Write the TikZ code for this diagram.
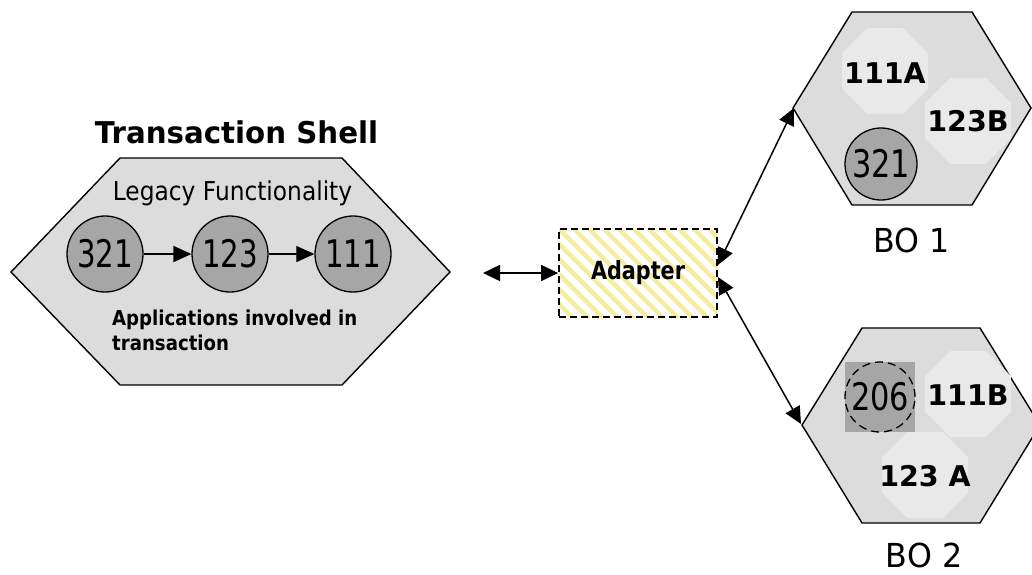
\documentclass[tikz,border=0pt]{standalone}
\usepackage{fontspec}
\setmainfont{DejaVu Sans}
\usepackage{graphicx}
\usetikzlibrary{arrows.meta,shapes.geometric}
\definecolor{hexfill}{RGB}{220,220,220}
\definecolor{octfill}{RGB}{233,233,233}
\definecolor{appfill}{RGB}{166,166,166}
\definecolor{stripecol}{RGB}{246,236,160}
\newcommand\hsq[2]{\scalebox{#1}[1]{#2}}
\begin{document}
\begin{tikzpicture}[x=1pt,y=-1pt,
  hexa/.style={draw=black, fill=hexfill, line width=1.4pt, line join=miter},
  app/.style={circle, draw=black, fill=appfill, line width=1.3pt, minimum size=76pt, inner sep=0pt, font=\fontsize{38}{38}\selectfont},
  octo/.style={regular polygon, regular polygon sides=8, fill=octfill, minimum size=93pt, inner sep=0pt},
  octtext/.style={inner sep=0pt, font=\bfseries\fontsize{28.5}{28.5}\selectfont},
  conn/.style={line width=1.4pt, -{Triangle[length=18pt,width=16pt]}},
  dbl/.style={line width=1.5pt, {Triangle[length=17pt,width=16pt]}-{Triangle[length=17pt,width=16pt]}},
  lbl/.style={anchor=base, inner sep=0pt},
]
\useasboundingbox (0,0) rectangle (1032,574);
\fill[white] (0,0) rectangle (1032,574);

% ---------- Transaction shell ----------
\node[lbl, font=\bfseries\fontsize{30}{30}\selectfont] (title) at (236.5,143) {\hsq{0.976}{Transaction Shell}};
\draw[hexa] (11,272) -- (120,158) -- (342,158) -- (450,272) -- (342,385) -- (120,385) -- cycle;
\node[lbl, font=\fontsize{26}{26}\selectfont] (legacy) at (232.5,200) {\hsq{0.896}{Legacy Functionality}};
\node[app] (a321) at (105,254) {\hsq{0.77}{321}};
\node[app] (a123) at (230,254) {\hsq{0.77}{123}};
\node[app] (a111) at (353,254) {\hsq{0.77}{111}};
\draw[conn, line width=2pt] (a321) -- (a123);
\draw[conn, line width=1.2pt] (a123) -- (a111);
\node[anchor=base west, inner sep=0pt, font=\bfseries\fontsize{20.5}{20.5}\selectfont] (appl1) at (112,325) {\hsq{0.885}{Applications involved in}};
\node[anchor=base west, inner sep=0pt, font=\bfseries\fontsize{20.5}{20.5}\selectfont] (appl2) at (112,350) {\hsq{0.885}{transaction}};

% ---------- Adapter ----------
\begin{scope}
  \clip (559,229) rectangle (717,317);
  \foreach \i in {-120,-105,...,180} \draw[stripecol, line width=4.5pt] (559+\i,229) -- ++(100,100);
\end{scope}
\node[draw=black, line width=1.8pt, dash pattern=on 7pt off 4pt, minimum width=158pt, minimum height=88pt, inner sep=0pt,
      font=\bfseries\fontsize{25}{25}\selectfont] (adapter) at (638,273) {\hsq{0.83}{Adapter}};
\coordinate (lend) at (483,273);
\draw[dbl] (lend) -- (adapter.west);

% ---------- BO 1 ----------
\draw[hexa] (793,108) -- (852,12) -- (972,12) -- (1031,108) -- (972,205) -- (852,205) -- cycle;
\coordinate (bo1w) at (794,108);
\node[octo] (o111a) at (885,71) {};
\node[octtext] (t111a) at (885,73) {111A};
\node[octo] (o123b) at (968,121) {};
\node[octtext] (t123b) at (968,121) {123B};
\node[app, minimum size=72pt] (b321) at (881,164) {\hsq{0.8}{321}};
\node[lbl, font=\fontsize{33}{33}\selectfont] (bo1) at (911.5,252) {\hsq{0.96}{BO 1}};

% ---------- BO 2 ----------
\draw[hexa] (802,425) -- (862,328) -- (980,328) -- (1040,425) -- (980,523) -- (862,523) -- cycle;
\coordinate (bo2w) at (801,424);
\node[octo] (o111b) at (968,394) {};
\node[octtext] (t111b) at (968,395) {111B};
\node[octo] (o123a) at (925,475) {};
\node[octtext] (t123a) at (925,476) {123 A};
\node[rectangle, fill=appfill, minimum size=70pt, inner sep=0pt] (sq206) at (880,397) {};
\node[circle, draw=black, line width=1.3pt, dash pattern=on 8pt off 5pt, minimum size=70pt, inner sep=0pt,
      font=\fontsize{38}{38}\selectfont] (c206) at (880,397) {\hsq{0.8}{206}};
\node[lbl, font=\fontsize{33}{33}\selectfont] (bo2) at (924,567) {\hsq{0.96}{BO 2}};

% ---------- connectors to BOs ----------
\draw[dbl] ([yshift=8pt]adapter.east) -- (bo1w);
\draw[dbl] ([yshift=-4pt]adapter.east) -- (bo2w);
\end{tikzpicture}
\end{document}
